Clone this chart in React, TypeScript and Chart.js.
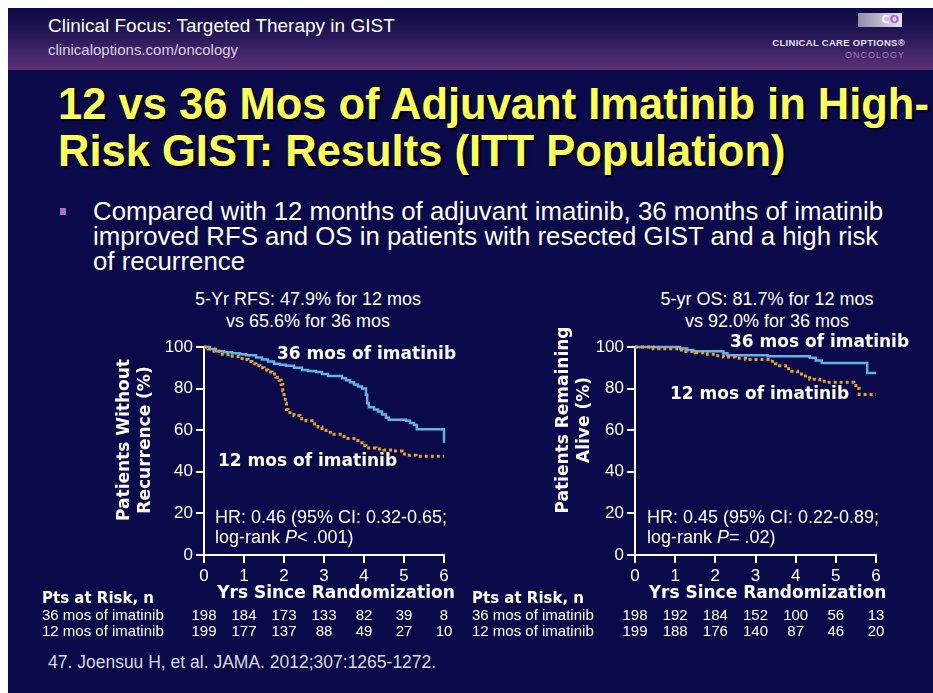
import React, { useEffect, useRef } from "react";
import { Chart, registerables } from "chart.js";
Chart.register(...registerables);

const SANS = '"Liberation Sans", Arial, Helvetica, sans-serif';
const BOLD = '"DejaVu Sans", Verdana, sans-serif';

// ---------- data ----------
const yearTicks = [0, 1, 2, 3, 4, 5, 6];
const percentTicks = [0, 20, 40, 60, 80, 100];
const armLabels = ["36 mos of imatinib", "12 mos of imatinib"];
const xAxisTitle = "Yrs Since Randomization";
const riskTitle = "Pts at Risk, n";

// Recurrence-free survival, [year, %] step points
const rfs36: number[][] = [
  [0, 100], [0.15, 99], [0.3, 98], [0.5, 97.5], [0.7, 97], [0.9, 96.5], [1.05, 96], [1.3, 95],
  [1.45, 94], [1.6, 93], [1.75, 92], [1.9, 91.5], [2.05, 91], [2.25, 90], [2.45, 89], [2.6, 88.5],
  [2.8, 88], [2.95, 87], [3.1, 86], [3.45, 85], [3.55, 84], [3.65, 83], [3.75, 82], [3.85, 81],
  [3.95, 80], [4.05, 77], [4.08, 73], [4.12, 71], [4.25, 70], [4.35, 69], [4.45, 67.5], [4.55, 66],
  [4.62, 65], [5.05, 64.5], [5.15, 63.5], [5.25, 62.5], [5.32, 60.5], [6, 60.5], [6, 54],
];
const rfs12: number[][] = [
  [0, 100], [0.1, 99], [0.25, 98], [0.4, 96.5], [0.6, 95.5], [0.85, 94.5], [1.0, 94], [1.1, 93],
  [1.2, 92], [1.3, 91], [1.4, 90], [1.5, 89], [1.6, 88], [1.7, 87], [1.8, 85.5], [1.88, 84],
  [1.93, 82], [1.97, 79], [2.0, 76], [2.03, 73], [2.06, 70], [2.1, 68.5], [2.25, 67], [2.4, 65.5],
  [2.55, 64.5], [2.7, 63], [2.85, 61.5], [2.95, 60], [3.05, 59], [3.25, 58], [3.45, 57], [3.6, 56],
  [3.75, 55], [3.85, 54], [3.95, 52.5], [4.05, 51.5], [4.3, 51], [4.5, 50.5], [4.75, 50],
  [4.95, 48.5], [5.05, 48], [5.3, 47.5], [6, 47.5],
];
// Overall survival
const os36: number[][] = [
  [0, 100], [1.12, 99.3], [1.3, 98.5], [1.45, 98], [2.2, 97], [2.3, 96], [3.3, 95.5], [4.35, 94.8],
  [4.5, 93.5], [4.65, 92.3], [5.78, 87.5], [6, 87.5],
];
const os12: number[][] = [
  [0, 100], [0.45, 99.2], [1.1, 98.5], [1.2, 97.8], [1.5, 97.2], [1.8, 96.5], [2.0, 95.8],
  [2.2, 95.2], [2.5, 94.6], [2.75, 94], [3.35, 93.2], [3.5, 92], [3.6, 91], [3.75, 89.5],
  [3.9, 88.3], [4.05, 87], [4.2, 86], [4.35, 84.5], [4.6, 83.5], [4.75, 83], [5.45, 82.4],
  [5.5, 80], [5.58, 77.2], [6, 77.2],
];

const rfsRisk36 = [198, 184, 173, 133, 82, 39, 8];
const rfsRisk12 = [199, 177, 137, 88, 49, 27, 10];
const osRisk36 = [198, 192, 184, 152, 100, 56, 13];
const osRisk12 = [199, 188, 176, 140, 87, 46, 20];

const rfsYTitle = ["Patients Without", "Recurrence (%)"];
const osYTitle = ["Patients Remaining", "Alive (%)"];
const rfsHR = ["HR: 0.46 (95% CI: 0.32-0.65;", "< .001)"];
const osHR = ["HR: 0.45 (95% CI: 0.22-0.89;", "= .02)"];

// ---------- chart ----------
type Cfg = {
  left: number; top: number; width: number; height: number;
  pad: { left: number; right: number; top: number; bottom: number };
  s36: number[][]; s12: number[][]; r36: number[]; r12: number[];
  yTitle: string[]; yTitleX: number[]; yTitleY: number;
  ann36: number[]; ann12: number[]; hr: string[]; hrPos: number[];
  xTitleY: number; riskX: number; riskHeadY: number; rowY: number[];
};

function KM({ cfg }: { cfg: Cfg }) {
  const ref = useRef<HTMLCanvasElement | null>(null);
  useEffect(() => {
    const canvas = ref.current!;
    const overlay = {
      id: "overlay",
      afterDraw(chart: any) {
        const ctx = chart.ctx as CanvasRenderingContext2D;
        const a = chart.chartArea;
        const xs = chart.scales.x;
        ctx.save();
        ctx.fillStyle = "#ffffff";
        ctx.textBaseline = "middle";
        ctx.textAlign = "left";
        ctx.font = `bold 17px ${BOLD}`;
        ctx.fillText(armLabels[0], a.left + cfg.ann36[0], a.top + cfg.ann36[1]);
        ctx.fillText(armLabels[1], a.left + cfg.ann12[0], a.top + cfg.ann12[1]);
        // HR text
        ctx.font = `18px ${SANS}`;
        const hx = a.left + cfg.hrPos[0];
        const hy = a.top + cfg.hrPos[1];
        ctx.fillText(cfg.hr[0], hx, hy);
        let x = hx;
        const y2 = hy + 20;
        ctx.fillText("log-rank ", x, y2);
        x += ctx.measureText("log-rank ").width;
        ctx.font = `italic 18px ${SANS}`;
        ctx.fillText("P", x, y2);
        x += ctx.measureText("P").width;
        ctx.font = `18px ${SANS}`;
        ctx.fillText(cfg.hr[1], x, y2);
        // Y title
        ctx.font = `bold 17px ${BOLD}`;
        ctx.textAlign = "center";
        cfg.yTitle.forEach((line, i) => {
          ctx.save();
          ctx.translate(cfg.yTitleX[i], cfg.yTitleY);
          ctx.rotate(-Math.PI / 2);
          ctx.fillText(line, 0, 0);
          ctx.restore();
        });
        // X title
        ctx.fillText(xAxisTitle, (a.left + a.right) / 2 + 12, cfg.xTitleY);
        // risk table
        ctx.textAlign = "left";
        ctx.font = `bold 15px ${BOLD}`;
        ctx.fillText(riskTitle, cfg.riskX, cfg.riskHeadY);
        ctx.font = `15px ${SANS}`;
        ctx.fillText(armLabels[0], cfg.riskX, cfg.rowY[0]);
        ctx.fillText(armLabels[1], cfg.riskX, cfg.rowY[1]);
        ctx.textAlign = "center";
        yearTicks.forEach((yr, i) => {
          const px = xs.getPixelForValue(yr);
          ctx.fillText(String(cfg.r36[i]), px, cfg.rowY[0]);
          ctx.fillText(String(cfg.r12[i]), px, cfg.rowY[1]);
        });
        ctx.restore();
      },
    };
    const axisCommon = {
      grid: { display: true, drawOnChartArea: false, drawTicks: true, tickLength: 8, color: "#ffffff", lineWidth: 2 },
      border: { display: true, color: "#ffffff", width: 2 },
    };
    const chart = new Chart(canvas, {
      type: "line",
      data: {
        datasets: [
          {
            label: armLabels[1],
            data: cfg.s12.map(([x, y]) => ({ x, y })),
            borderColor: "#e3a331",
            borderWidth: 3,
            borderDash: [3, 3],
            stepped: "before",
            pointRadius: 0,
            fill: false,
            clip: false as any,
          },
          {
            label: armLabels[0],
            data: cfg.s36.map(([x, y]) => ({ x, y })),
            borderColor: "#62b2e4",
            borderWidth: 2.5,
            stepped: "before",
            pointRadius: 0,
            fill: false,
            clip: false as any,
          },
        ],
      },
      options: {
        animation: false,
        responsive: false,
        events: [],
        layout: { padding: cfg.pad },
        plugins: { legend: { display: false }, tooltip: { enabled: false }, title: { display: false } },
        scales: {
          x: {
            type: "linear",
            min: 0,
            max: 6,
            afterFit: (s: any) => { s.height = 30; },
            afterBuildTicks: (s: any) => { s.ticks = yearTicks.map((v) => ({ value: v })); },
            ticks: { color: "#ffffff", font: { family: SANS, size: 17 }, padding: 3, autoSkip: false, maxRotation: 0 },
            ...axisCommon,
          },
          y: {
            type: "linear",
            min: 0,
            max: 100,
            afterFit: (s: any) => { s.width = 40; },
            afterBuildTicks: (s: any) => { s.ticks = percentTicks.map((v) => ({ value: v })); },
            ticks: { color: "#ffffff", font: { family: SANS, size: 17 }, padding: 3 },
            ...axisCommon,
          },
        },
      } as any,
      plugins: [overlay],
    });
    return () => chart.destroy();
  }, [cfg]);
  return (
    <canvas
      ref={ref}
      width={cfg.width}
      height={cfg.height}
      style={{ position: "absolute", left: cfg.left, top: cfg.top, width: cfg.width, height: cfg.height }}
    />
  );
}

const leftCfg: Cfg = {
  left: 35, top: 320, width: 435, height: 325,
  pad: { left: 129, right: 26, top: 27, bottom: 60 },
  s36: rfs36, s12: rfs12, r36: rfsRisk36, r12: rfsRisk12,
  yTitle: rfsYTitle, yTitleX: [90, 111], yTitleY: 120,
  ann36: [73, 8], ann12: [14, 115], hr: rfsHR, hrPos: [11, 171],
  xTitleY: 274, riskX: 7, riskHeadY: 279, rowY: [296, 312],
};
const rightCfg: Cfg = {
  left: 470, top: 320, width: 455, height: 325,
  pad: { left: 125, right: 49, top: 27, bottom: 60 },
  s36: os36, s12: os12, r36: osRisk36, r12: osRisk12,
  yTitle: osYTitle, yTitleX: [94, 115], yTitleY: 100,
  ann36: [95, -4], ann12: [35, 48], hr: osHR, hrPos: [12, 171],
  xTitleY: 274, riskX: 2, riskHeadY: 279, rowY: [296, 312],
};

function T(props: { x: number; y: number; size: number; color?: string; bold?: boolean; family?: string; children: any; style?: any }) {
  const { x, y, size, color = "#fff", bold, family = SANS, children, style } = props;
  return (
    <div
      style={{
        position: "absolute",
        left: x,
        top: y - size * 0.6,
        fontSize: size,
        lineHeight: `${size * 1.2}px`,
        fontFamily: family,
        fontWeight: bold ? "bold" : "normal",
        color,
        whiteSpace: "nowrap",
        ...style,
      }}
    >
      {children}
    </div>
  );
}

export default function App() {
  return (
    <div style={{ position: "absolute", left: 0, top: 0, width: 933, height: 693, background: "#ffffff", overflow: "hidden" }}>
      <div style={{ position: "absolute", left: 8, top: 8, width: 925, height: 685, background: "#0a0a4b" }} />
      <div
        style={{
          position: "absolute", left: 8, top: 8, width: 925, height: 62,
          background: "linear-gradient(to bottom, #0b0a44 0%, #221655 40%, #45256b 75%, #5d3177 100%)",
        }}
      />
      <T x={48} y={26} size={19}>Clinical Focus: Targeted Therapy in GIST</T>
      <T x={48} y={50} size={15} color="#d6d4e2">clinicaloptions.com/oncology</T>
      <div
        style={{
          position: "absolute", left: 858, top: 13, width: 44, height: 14,
          background: "linear-gradient(to right, #8e8ea6, #e4e4f0)",
          fontFamily: BOLD, fontWeight: "bold", fontSize: 11, lineHeight: "14px",
          textAlign: "right", paddingRight: 3, boxSizing: "border-box", color: "#ffffff",
        }}
      >
        <span style={{ color: "#f4f4fa" }}>C</span>
        <span style={{ color: "#b566c8" }}>O</span>
      </div>
      <T x={0} y={43} size={9.5} bold family={SANS} color="#e4e2ee" style={{ width: 905, textAlign: "right", letterSpacing: 0.3 }}>
        CLINICAL CARE OPTIONS®
      </T>
      <T x={0} y={55} size={9} family={SANS} color="#9a78b4" style={{ width: 905, textAlign: "right", letterSpacing: 1 }}>
        ONCOLOGY
      </T>

      <div
        style={{
          position: "absolute", left: 58, top: 81, fontFamily: SANS, fontWeight: "bold",
          fontSize: 43.5, lineHeight: "47px", color: "#ffff5c", whiteSpace: "nowrap",
          textShadow: "2px 2px 2px #000000",
        }}
      >
        12 vs 36 Mos of Adjuvant Imatinib in High-
        <br />
        Risk GIST: Results (ITT Population)
      </div>

      <div style={{ position: "absolute", left: 60, top: 208, width: 6, height: 7, background: "#a573bd" }} />
      <div
        style={{
          position: "absolute", left: 93, top: 199, fontFamily: SANS, fontSize: 25.8,
          lineHeight: "25px", color: "#ffffff", whiteSpace: "nowrap",
        }}
      >
        Compared with 12 months of adjuvant imatinib, 36 months of imatinib
        <br />
        improved RFS and OS in patients with resected GIST and a high risk
        <br />
        of recurrence
      </div>

      <div style={{ position: "absolute", left: 158, top: 288, width: 300, textAlign: "center", fontFamily: SANS, fontSize: 18, lineHeight: "22px", color: "#fff" }}>
        5-Yr RFS: 47.9% for 12 mos
        <br />
        vs 65.6% for 36 mos
      </div>
      <div style={{ position: "absolute", left: 617, top: 288, width: 300, textAlign: "center", fontFamily: SANS, fontSize: 18, lineHeight: "22px", color: "#fff" }}>
        5-yr OS: 81.7% for 12 mos
        <br />
        vs 92.0% for 36 mos
      </div>

      <KM cfg={leftCfg} />
      <KM cfg={rightCfg} />

      <T x={48} y={662} size={17.5} color="#d9d9de">47. Joensuu H, et al. JAMA. 2012;307:1265-1272.</T>
    </div>
  );
}
